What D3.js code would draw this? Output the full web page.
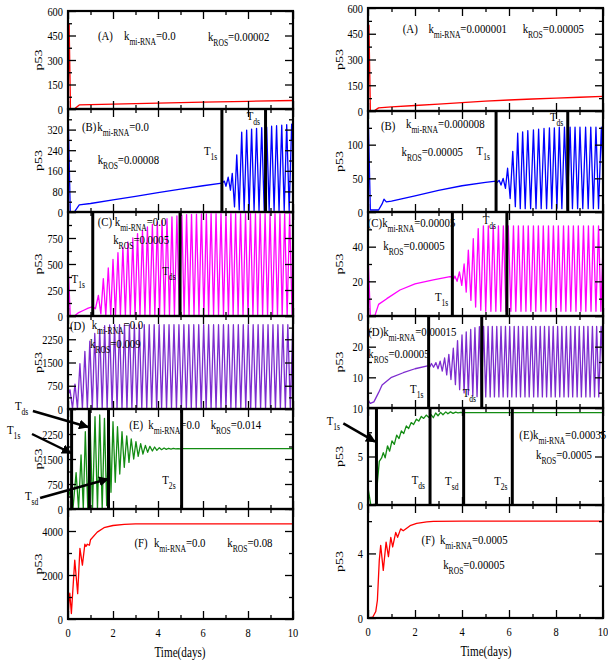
<!DOCTYPE html>
<html>
<head>
<meta charset="utf-8">
<script src="https://cdn.jsdelivr.net/npm/d3@7"></script>
<style>
  body { margin: 0; background: #fff; }
  text { font-family: "Liberation Serif", "Times New Roman", serif; fill: #000; }
</style>
</head>
<body>
<div id="chart"></div>
<script>
// ---- data (time in days, p53 level) ----
const leftA = [[0,0],[0.05,520],[0.11,0],[0.28,0],[0.5,25],[1,27],[2,30],[4,36],[6,42],[8,47],[10,52]];
const leftB = [[0,420],[0.1,0],[0.28,0],[0.5,28],[1,33],[2,47],[3,61],[4,75],[5,89],[6,102],[6.84,112],[6.95,120],[7.02,100],[7.12,135],[7.22,85],[7.3,150],[7.4,20],[7.5,222],[7.61,8],[7.72,310],[7.83,6],[7.94,318],[8.05,6],[8.16,322],[8.27,6],[8.38,325],[8.49,6],[8.61,328],[8.72,6],[8.83,330],[8.94,6],[9.05,333],[9.16,6],[9.27,335],[9.38,6],[9.5,337],[9.61,6],[9.72,339],[9.83,6],[9.94,341],[10,250]];
const leftC = [[0,530],[0.1,0],[0.28,0],[0.45,30],[0.7,55],[0.9,75],[1.1,90],[1.22,70],[1.35,199],[1.46,20],[1.57,359],[1.68,5],[1.79,462],[1.9,4],[2.0,545],[2.11,4],[2.22,609],[2.33,4],[2.44,663],[2.55,4],[2.66,712],[2.77,4],[2.88,750],[2.98,4],[3.09,792],[3.2,4],[3.31,824],[3.42,4],[3.53,856],[3.64,4],[3.75,881],[3.86,4],[3.97,904],[4.07,4],[4.18,920],[4.29,4],[4.4,936],[4.51,4],[4.62,952],[4.73,4],[4.84,962],[4.95,4],[5.06,970],[5.16,4],[5.27,975],[5.38,4],[5.49,978],[5.6,4],[5.71,980],[5.82,4],[5.93,982],[6.04,4],[6.15,982],[6.25,4],[6.36,983],[6.47,4],[6.58,983],[6.69,4],[6.8,983],[6.91,4],[7.02,983],[7.13,4],[7.24,983],[7.34,4],[7.45,983],[7.56,4],[7.67,983],[7.78,4],[7.89,983],[8.0,4],[8.11,983],[8.22,4],[8.33,983],[8.43,4],[8.54,983],[8.65,4],[8.76,983],[8.87,4],[8.98,983],[9.09,4],[9.2,983],[9.31,4],[9.42,983],[9.52,4],[9.63,983],[9.74,4],[9.85,983],[9.96,4],[10,150]];
const leftD = [[0,450],[0.09,620],[0.2,15],[0.31,805],[0.42,15],[0.53,1460],[0.64,15],[0.75,1860],[0.86,15],[0.97,2190],[1.08,15],[1.19,2435],[1.3,15],[1.41,2575],[1.52,15],[1.63,2685],[1.74,15],[1.85,2710],[1.96,15],[2.07,2720],[2.18,15],[2.29,2720],[2.4,15],[2.51,2720],[2.62,15],[2.73,2720],[2.84,15],[2.95,2720],[3.06,15],[3.17,2720],[3.28,15],[3.39,2720],[3.5,15],[3.61,2720],[3.72,15],[3.83,2720],[3.94,15],[4.05,2720],[4.16,15],[4.27,2720],[4.38,15],[4.49,2720],[4.6,15],[4.71,2720],[4.82,15],[4.93,2720],[5.04,15],[5.15,2720],[5.26,15],[5.37,2720],[5.48,15],[5.59,2720],[5.7,15],[5.81,2720],[5.92,15],[6.03,2720],[6.14,15],[6.25,2720],[6.36,15],[6.47,2720],[6.58,15],[6.69,2720],[6.8,15],[6.91,2720],[7.02,15],[7.13,2720],[7.24,15],[7.35,2720],[7.46,15],[7.57,2720],[7.68,15],[7.79,2720],[7.9,15],[8.01,2720],[8.12,15],[8.23,2720],[8.34,15],[8.45,2720],[8.56,15],[8.67,2720],[8.78,15],[8.89,2720],[9.0,15],[9.11,2720],[9.22,15],[9.33,2720],[9.44,15],[9.55,2720],[9.66,15],[9.77,2720],[9.88,15],[9.99,2720],[10,2600]];
const leftE = [[0,300],[0.1,570],[0.22,0],[0.36,1090],[0.47,0],[0.58,1620],[0.68,0],[0.77,2320],[0.88,0],[0.98,2650],[1.09,0],[1.2,2770],[1.31,0],[1.41,2820],[1.52,0],[1.62,2720],[1.72,100],[1.82,2660],[1.91,500],[2.0,2620],[2.1,800],[2.2,2470],[2.3,1050],[2.4,2320],[2.5,1250],[2.61,2190],[2.71,1400],[2.81,2100],[2.92,1500],[3.02,2020],[3.12,1580],[3.23,1960],[3.33,1650],[3.44,1910],[3.54,1700],[3.64,1880],[3.75,1740],[3.85,1860],[3.95,1760],[4.06,1840],[4.16,1780],[4.27,1830],[4.37,1790],[4.47,1822],[4.58,1798],[4.68,1818],[4.78,1802],[4.89,1814],[5.0,1806],[5.1,1811],[5.3,1809],[10,1810]];
const leftF = [[0,0],[0.05,900],[0.08,1170],[0.15,250],[0.3,2680],[0.43,1150],[0.53,3210],[0.64,2450],[0.75,3400],[0.8,3300],[0.86,3400],[0.95,3350],[1.0,3600],[1.3,3950],[1.6,4150],[2,4250],[2.5,4300],[3,4320],[10,4320]];

const rightA = [[0,0],[0.04,500],[0.1,0],[0.25,0],[0.45,18],[1,24],[2,32],[3,40],[4,49],[5,57],[6,64],[7,70],[8,75],[9,80],[10,85]];
const rightB = [[0,160],[0.1,3],[0.45,3],[0.6,12],[0.68,19],[0.78,15],[1,16],[2,24],[3,32],[4,39],[5,44],[5.45,46],[5.5,44],[5.58,47],[5.66,40],[5.75,50],[5.85,35],[5.94,65],[6.05,20],[6.16,90],[6.27,8],[6.37,117],[6.48,5],[6.58,119],[6.69,5],[6.8,121],[6.92,5],[7.04,122],[7.15,5],[7.26,123],[7.37,5],[7.49,124],[7.6,5],[7.72,125],[7.82,5],[7.93,125],[8.04,5],[8.14,126],[8.25,5],[8.36,126],[8.48,5],[8.6,126],[8.7,5],[8.81,126],[8.92,5],[9.02,126],[9.14,5],[9.26,126],[9.37,5],[9.48,126],[9.59,5],[9.7,126],[9.81,5],[9.93,126],[10,60]];
const rightC = [[0,36],[0.1,0],[0.3,0.5],[0.45,6.7],[0.8,10],[1.36,15],[2,18.5],[2.78,20.8],[3.49,22.7],[3.59,22.5],[3.65,21.5],[3.7,23],[3.79,20],[3.89,25.4],[3.99,17.7],[4.09,30],[4.18,13.8],[4.27,38],[4.38,9],[4.48,44.6],[4.58,5.2],[4.69,50.4],[4.8,3.3],[4.91,52],[5.01,2.7],[5.12,52],[5.23,2.7],[5.33,52],[5.44,2.7],[5.55,52],[5.65,2.7],[5.76,52],[5.87,2.7],[5.97,52],[6.08,2.7],[6.19,52],[6.29,2.7],[6.4,52],[6.51,2.7],[6.61,52],[6.72,2.7],[6.82,52],[6.93,2.7],[7.04,52],[7.14,2.7],[7.25,52],[7.36,2.7],[7.46,52],[7.57,2.7],[7.68,52],[7.78,2.7],[7.89,52],[8.0,2.7],[8.1,52],[8.21,2.7],[8.32,52],[8.42,2.7],[8.53,52],[8.63,2.7],[8.74,52],[8.85,2.7],[8.95,52],[9.06,2.7],[9.17,52],[9.27,2.7],[9.38,52],[9.49,2.7],[9.59,52],[9.7,2.7],[9.81,52],[9.91,2.7],[10,40]];
const rightD = [[0,2.5],[0.1,1.5],[0.25,2],[0.45,5],[0.6,7.5],[1,10],[1.5,11.5],[2,12.8],[2.58,13.8],[2.64,13.5],[2.7,14.5],[2.79,13.3],[2.89,14.8],[2.98,12.8],[3.07,15.3],[3.16,12],[3.26,16.3],[3.35,10.8],[3.44,17.5],[3.53,9.3],[3.63,19.5],[3.72,7.6],[3.81,22],[3.9,6],[4.0,23.8],[4.09,4.9],[4.18,24.8],[4.27,4.3],[4.37,25.6],[4.46,3.9],[4.55,26.2],[4.64,3.7],[4.74,26.5],[4.83,3.6],[4.92,26.6],[5.01,3.6],[5.11,26.6],[5.2,3.6],[5.29,26.6],[5.38,3.6],[5.48,26.6],[5.57,3.6],[5.66,26.6],[5.75,3.6],[5.85,26.6],[5.94,3.6],[6.03,26.6],[6.12,3.6],[6.22,26.6],[6.31,3.6],[6.4,26.6],[6.49,3.6],[6.59,26.6],[6.68,3.6],[6.77,26.6],[6.86,3.6],[6.96,26.6],[7.05,3.6],[7.14,26.6],[7.23,3.6],[7.33,26.6],[7.42,3.6],[7.51,26.6],[7.6,3.6],[7.7,26.6],[7.79,3.6],[7.88,26.6],[7.97,3.6],[8.07,26.6],[8.16,3.6],[8.25,26.6],[8.34,3.6],[8.44,26.6],[8.53,3.6],[8.62,26.6],[8.71,3.6],[8.81,26.6],[8.9,3.6],[8.99,26.6],[9.08,3.6],[9.18,26.6],[9.27,3.6],[9.36,26.6],[9.45,3.6],[9.55,26.6],[9.64,3.6],[9.73,26.6],[9.82,3.6],[9.92,26.6],[10,12]];
const rightE = [[0,1.8],[0.12,0],[0.33,0.1],[0.41,2.6],[0.48,4.5],[0.58,4.85],[0.65,5.4],[0.73,4.86],[0.83,6.1],[0.92,5.55],[1.02,6.6],[1.12,6.25],[1.22,7.2],[1.32,6.85],[1.42,7.64],[1.52,7.36],[1.63,8.16],[1.73,7.88],[1.84,8.5],[1.94,8.3],[2.06,8.85],[2.16,8.65],[2.27,9.13],[2.37,8.93],[2.48,9.27],[2.58,9.03],[2.69,9.3],[2.78,9.0],[2.88,9.48],[2.98,9.2],[3.09,9.55],[3.19,9.3],[3.31,9.6],[3.4,9.4],[3.51,9.6],[3.62,9.45],[3.73,9.58],[3.83,9.5],[3.94,9.55],[4.05,9.52],[4.2,9.53],[10,9.53]];
const rightF = [[0,0],[0.2,0.05],[0.33,0.4],[0.4,1.1],[0.48,3.57],[0.54,4.5],[0.65,2.95],[0.77,4.7],[0.87,3.8],[0.97,5.0],[1.05,4.4],[1.18,5.3],[1.26,5.0],[1.39,5.52],[1.5,5.4],[1.79,5.72],[2.07,5.86],[2.5,5.95],[2.78,5.99],[4,6.0],[10,6.0]];

// vertical T markers (days)
const leftMarks  = { B: [6.84, 8.78], C: [1.1, 4.98], D: [], E: [0.16, 0.95, 1.8, 5.05] };
const rightMarks = { B: [5.45, 8.5], C: [3.59, 5.91], D: [2.58, 4.84], E: [0.36, 2.64, 4.07, 6.14] };

// y ranges, tick steps and labelled ticks
const leftDomains  = { A: 600, B: 400, C: 1000, D: 3000, E: 3000, F: 5000 };
const rightDomains = { A: 600, B: 150, C: 60, D: 30, E: 10, F: 7 };
const leftSteps  = { A: [150, 75], B: [80, 40], C: [250, 125], D: [750, 375], E: [750, 375], F: [2000, 1000] };
const rightSteps = { A: [150, 75], B: [50, 25], C: [20, 10], D: [10, 5], E: [5, 2.5], F: [4, 2] };
const leftTickLabels = {
  A: [0, 150, 300, 450, 600], B: [0, 80, 160, 240, 320], C: [0, 250, 500, 750],
  D: [0, 750, 1500, 2250], E: [0, 750, 1500, 2250], F: [0, 2000, 4000]
};
const rightTickLabels = {
  A: [0, 150, 300, 450, 600], B: [0, 50, 100], C: [0, 20, 40],
  D: [10, 20], E: [0, 5, 10], F: [0, 4]
};
const xTickLabels = [0, 2, 4, 6, 8, 10];

const colors = { A: '#ff0000', B: '#0000ff', C: '#ff00ff', D: '#7d2ccf', E: '#138c13', F: '#ff0000' };

// annotations: [panel, t, p53, parts]  (array part = subscript)
const leftNotes = [
  ['A', 1.33, 422, ['(A)']], ['A', 2.49, 422, ['k', ['mi-RNA'], '=0.0']], ['A', 6.22, 416, ['k', ['ROS'], '=0.00002']],
  ['B', 0.62, 315, ['(B)']], ['B', 1.3, 315, ['k', ['mi-RNA'], '=0.0']], ['B', 1.32, 186, ['k', ['ROS'], '=0.00008']],
  ['B', 6.04, 221, ['T', ['1s']]], ['B', 7.94, 357, ['T', ['ds']]],
  ['C', 1.32, 865, ['(C) k', ['mi-RNA'], '=0.0']], ['C', 2.01, 692, ['k', ['ROS'], '=0.0005']],
  ['C', 0.16, 317, ['T', ['1s']]], ['C', 4.19, 394, ['T', ['ds']]],
  ['D', 0.09, 2560, ['(D)']], ['D', 1.05, 2580, ['k', ['mi-RNA'], '=0.0']], ['D', 0.98, 1968, ['k', ['ROS'], '=0.009']],
  ['E', 2.72, 2400, ['(E)']], ['E', 3.57, 2400, ['k', ['mi-RNA'], '=0.0']], ['E', 6.34, 2400, ['k', ['ROS'], '=0.014']],
  ['E', 4.19, 750, ['T', ['2s']]],
  ['E', -2.36, 2970, ['T', ['ds']]], ['E', -2.71, 2250, ['T', ['1s']]], ['E', -1.91, 270, ['T', ['sd']]],
  ['F', 2.95, 3273, ['(F)']], ['F', 3.82, 3273, ['k', ['mi-RNA'], '=0.0']], ['F', 7.08, 3273, ['k', ['ROS'], '=0.08']]
];
const rightNotes = [
  ['A', 1.48, 454, ['(A)']], ['A', 2.57, 454, ['k', ['mi-RNA'], '=0.000001']], ['A', 6.58, 454, ['k', ['ROS'], '=0.00005']],
  ['B', 0.55, 122, ['(B)']], ['B', 1.62, 124.8, ['k', ['mi-RNA'], '=0.000008']], ['B', 1.43, 83.2, ['k', ['ROS'], '=0.00005']],
  ['B', 4.62, 84.7, ['T', ['1s']]], ['B', 7.74, 135, ['T', ['ds']]],
  ['C', -0.01, 51.3, ['(C)k', ['mi-RNA'], '=0.00005']], ['C', 0.65, 38, ['k', ['ROS'], '=0.00005']],
  ['C', 2.85, 8.6, ['T', ['1s']]], ['C', 4.88, 53, ['T', ['ds']]],
  ['D', 0.01, 23.5, ['(D)k', ['mi-RNA'], '=0.00015']], ['D', 0.01, 16.3, ['k', ['ROS'], '=0.00005']],
  ['D', 1.79, 4.9, ['T', ['1s']]], ['D', 4.03, 3.6, ['T', ['ds']]],
  ['E', 6.44, 6.8, ['(E)k', ['mi-RNA'], '=0.00035']], ['E', 7.15, 4.74, ['k', ['ROS'], '=0.0005']],
  ['E', -1.76, 8.25, ['T', ['1s']]], ['E', 1.86, 2.16, ['T', ['ds']]], ['E', 3.28, 2.06, ['T', ['sd']]], ['E', 5.37, 2.06, ['T', ['2s']]],
  ['F', 2.28, 4.58, ['(F)']], ['F', 3.06, 4.58, ['k', ['mi-RNA'], '=0.0005']], ['F', 3.2, 3.04, ['k', ['ROS'], '=0.00005']]
];
// arrows: [panel, t0, p0, t1, p1]
const leftArrows = [['E', -1.56, 2940, 0.89, 2460], ['E', -1.6, 2250, 0.13, 1680], ['E', -1.24, 330, 1.78, 900]];
const rightArrows = [['E', -1.05, 8.42, 0.30, 6.53]];

// ---- drawing ----
const SX = 0.8;   // figure text is horizontally squeezed
const panelKeys = ['A', 'B', 'C', 'D', 'E', 'F'];
const svg = d3.select('#chart').append('svg').attr('width', 608).attr('height', 667);

svg.append('defs').append('marker')
  .attr('id', 'arrow').attr('viewBox', '0 0 10 10').attr('refX', 9).attr('refY', 5)
  .attr('markerWidth', 4).attr('markerHeight', 4).attr('orient', 'auto')
  .append('path').attr('d', 'M0,0 L10,5 L0,10 z').attr('fill', '#000');

function addText(g, x, y, parts, size, anchor, rotate) {
  const t = g.append('text')
    .attr('transform', `translate(${x},${y}) scale(${SX},1)` + (rotate ? ` rotate(${rotate})` : ''))
    .attr('font-size', size).attr('text-anchor', anchor || 'start');
  let shift = 0;
  parts.forEach(p => {
    const sub = Array.isArray(p);
    const target = sub ? 5 : 0;
    t.append('tspan').attr('dy', target - shift).attr('font-size', sub ? 9.5 : size).text(sub ? p[0] : p);
    shift = target;
  });
  return t;
}

const columns = [
  { x0: 68, x1: 293, edges: [11, 109, 212, 316, 409, 509, 619], data: { A: leftA, B: leftB, C: leftC, D: leftD, E: leftE, F: leftF },
    domains: leftDomains, steps: leftSteps, labels: leftTickLabels, marks: leftMarks, notes: leftNotes, arrows: leftArrows, ylab: 42, xlab: 180 },
  { x0: 368, x1: 603, edges: [8, 111, 212, 316, 408, 505, 618], data: { A: rightA, B: rightB, C: rightC, D: rightD, E: rightE, F: rightF },
    domains: rightDomains, steps: rightSteps, labels: rightTickLabels, marks: rightMarks, notes: rightNotes, arrows: rightArrows, ylab: 343, xlab: 486 }
];

columns.forEach((col, ci) => {
  const x = d3.scaleLinear().domain([0, 10]).range([col.x0, col.x1]);
  const g = svg.append('g');
  const ys = {};

  panelKeys.forEach((k, i) => {
    const top = col.edges[i], bot = col.edges[i + 1];
    const y = d3.scaleLinear().domain([0, col.domains[k]]).range([bot, top]);
    ys[k] = y;
    const pg = g.append('g');
    const clipId = `clip${ci}${k}`;
    pg.append('clipPath').attr('id', clipId).append('rect')
      .attr('x', col.x0).attr('y', top).attr('width', col.x1 - col.x0).attr('height', bot - top);

    // curve
    const line = d3.line().x(d => x(d[0])).y(d => y(d[1]));
    pg.append('path').datum(col.data[k]).attr('clip-path', `url(#${clipId})`)
      .attr('d', line).attr('fill', 'none').attr('stroke', colors[k]).attr('stroke-width', 1.3)
      .attr('stroke-linejoin', 'round');

    // T markers
    pg.selectAll('.mark').data(col.marks[k] || []).enter().append('line')
      .attr('x1', d => x(d)).attr('x2', d => x(d)).attr('y1', top).attr('y2', bot)
      .attr('stroke', '#000').attr('stroke-width', 3);

    // ticks (inward on all four sides)
    const [major, minor] = col.steps[k];
    const majors = d3.range(0, col.domains[k] + 1e-9, major);
    const minors = d3.range(0, col.domains[k] + 1e-9, minor).filter(v => Math.abs(v / major - Math.round(v / major)) > 1e-6);
    const tick = (axis, tx, ty, vals, size) => pg.append('g').attr('transform', `translate(${tx},${ty})`)
      .call(axis.tickValues(vals).tickSize(-size).tickFormat(''))
      .call(s => s.select('.domain').remove())
      .call(s => s.selectAll('line').attr('stroke-width', 1.3));
    tick(d3.axisLeft(y), col.x0, 0, majors, 8);
    tick(d3.axisLeft(y), col.x0, 0, minors, 4);
    tick(d3.axisRight(y), col.x1, 0, majors, 8);
    tick(d3.axisRight(y), col.x1, 0, minors, 4);
    tick(d3.axisTop(x), 0, top, [0, 2, 4, 6, 8, 10], 8);
    tick(d3.axisTop(x), 0, top, [1, 3, 5, 7, 9], 4);
    tick(d3.axisBottom(x), 0, bot, [0, 2, 4, 6, 8, 10], 8);
    tick(d3.axisBottom(x), 0, bot, [1, 3, 5, 7, 9], 4);

    // frame
    pg.append('rect').attr('x', col.x0).attr('y', top).attr('width', col.x1 - col.x0).attr('height', bot - top)
      .attr('fill', 'none').attr('stroke', '#000').attr('stroke-width', 2.2);

    // y tick labels
    col.labels[k].forEach(v => addText(pg, col.x0 - 5, y(v) + 4.5, [String(v)], 13, 'end'));

    // y title
    addText(pg, col.ylab, (top + bot) / 2, ['p53'], 14, 'middle', -90);
  });

  // annotations
  col.notes.forEach(([k, t, v, parts]) => addText(g, x(t), ys[k](v), parts, 13.5, 'start'));
  col.arrows.forEach(([k, t0, v0, t1, v1]) => g.append('line')
    .attr('x1', x(t0)).attr('y1', ys[k](v0)).attr('x2', x(t1)).attr('y2', ys[k](v1))
    .attr('stroke', '#000').attr('stroke-width', 2.5).attr('marker-end', 'url(#arrow)'));

  // x tick labels and title
  const bottom = col.edges[6];
  xTickLabels.forEach(v => addText(g, x(v), bottom + 18, [String(v)], 13, 'middle'));
  addText(g, col.xlab, bottom + 38, ['Time(days)'], 14, 'middle');
});
</script>
</body>
</html>
